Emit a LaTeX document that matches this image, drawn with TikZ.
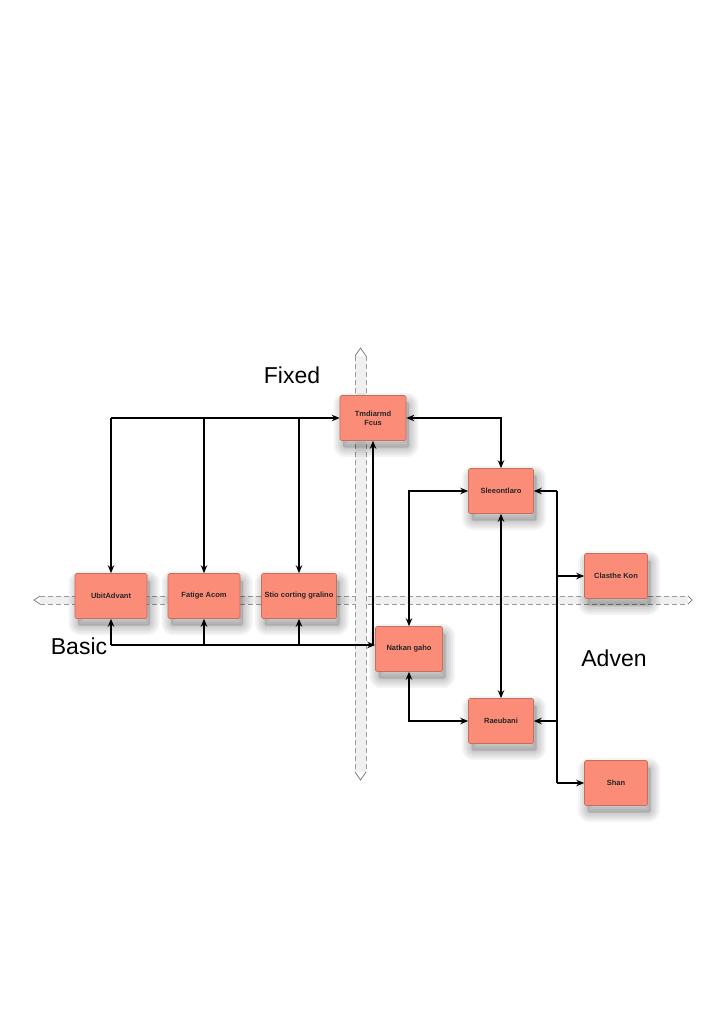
\documentclass[tikz,border=0pt]{standalone}
\usepackage{fontspec}
\setmainfont{Liberation Sans}
\usetikzlibrary{arrows.meta,calc}
\definecolor{boxfill}{RGB}{250,140,120}
\definecolor{boxline}{RGB}{196,110,95}
\tikzset{
  shlayer/.style={preaction={draw=black, fill=none, line width=#1, line join=round,
      draw opacity=0.045, transform canvas={shift={(3pt,-7pt)}}}},
  box/.style={draw=boxline, line width=0.6pt, fill=boxfill, rounded corners=1.5pt,
    minimum height=45pt, align=center, inner sep=2pt,
    font=\fontsize{7.5}{9}\selectfont\bfseries, text=black!85,
    preaction={fill=black, draw=none, fill opacity=0.14,
      transform canvas={shift={(3pt,-7pt)}}},
    shlayer=3pt, shlayer=7pt, shlayer=11pt, shlayer=15pt, shlayer=19pt},
  conn/.style={line width=1.3pt, black},
  arr/.style={conn, -{Stealth[length=8pt,width=6.5pt]}},
  darr/.style={conn, {Stealth[length=8pt,width=6.5pt]}-{Stealth[length=8pt,width=6.5pt]}},
  axisband/.style={fill=black!6},
  axisline/.style={draw=black!40, line width=0.5pt, dash pattern=on 5pt off 3pt},
  axiscap/.style={draw=black!55, line width=0.7pt},
  biglabel/.style={font=\fontsize{23}{26}\selectfont, text=black}
}
\begin{document}
\begin{tikzpicture}[x=1pt,y=-1pt]
\useasboundingbox (0,0) rectangle (720,1024);
\fill[white] (0,0) rectangle (720,1024);
% axes
\fill[axisband] (40,596) rectangle (688,604);
\draw[axisline] (40,596) -- (688,596);
\draw[axisline] (40,604) -- (688,604);
\draw[axiscap] (40,596) -- (34,600) -- (40,604);
\draw[axiscap] (688,596) -- (692,600) -- (688,604);
\fill[axisband] (355,356) rectangle (366,772);
\draw[axisline] (355,356) -- (355,772);
\draw[axisline] (366,356) -- (366,772);
\draw[axiscap] (355,356) -- (360.5,348) -- (366,356);
\draw[axiscap] (355,772) -- (360.5,780) -- (366,772);
% labels
\node[biglabel] (lfixed) at (292,375) {Fixed};
\node[biglabel] (lbasic) at (79,646) {Basic};
\node[biglabel] (ladven) at (614,658) {Adven};
% boxes
\node[box, minimum width=66pt] (trad) at (373,418) {Tmdiarmd\\Fcus};
\node[box, minimum width=65pt] (sle) at (501,491) {Sleeontlaro};
\node[box, minimum width=72pt] (ubit) at (111,596) {UbitAdvant};
\node[box, minimum width=72pt] (fat) at (204,596) {Fatige Acom};
\node[box, minimum width=75pt] (stio) at (299,596) {Stio corting gralino};
\node[box, minimum width=63pt] (cla) at (616,576) {Clasthe Kon};
\node[box, minimum width=67pt] (nat) at (409,649) {Natkan gaho};
\node[box, minimum width=65pt] (rae) at (501,721) {Raeubani};
\node[box, minimum width=63pt] (shan) at (616,783) {Shan};
% top bus
\coordinate (tb) at (ubit.north |- trad.west);
\draw[arr] (tb) -- (trad.west);
\draw[arr] (tb) -- (ubit.north);
\draw[arr] (fat.north |- tb) -- (fat.north);
\draw[arr] (stio.north |- tb) -- (stio.north);
% bottom bus
\coordinate (bb) at ($(ubit.south |- nat.west)+(0,-4)$);
\coordinate (bbe) at ($(nat.west)+(0,-4)$);
\draw[arr] (bb) -- (bbe);
\draw[arr] (bb) -- (ubit.south);
\draw[arr] (fat.south |- bb) -- (fat.south);
\draw[arr] (stio.south |- bb) -- (stio.south);
\draw[arr] (trad.south |- bb) -- (trad.south);
% right cluster
\draw[darr] (trad.east) -| (sle.north);
\draw[darr] (sle.west) -| (nat.north);
\draw[darr] (nat.south) |- (rae.west);
\draw[darr] (sle.south) -- (rae.north);
\coordinate (rbt) at (557,491);
\coordinate (rbb) at (557,783);
\draw[conn] (rbt) -- (rbb);
\draw[arr] (rbt) -- (sle.east);
\draw[arr] (rbt |- rae.east) -- (rae.east);
\draw[arr] (rbt |- cla.west) -- (cla.west);
\draw[arr] (rbb) -- (shan.west);
\end{tikzpicture}
\end{document}
